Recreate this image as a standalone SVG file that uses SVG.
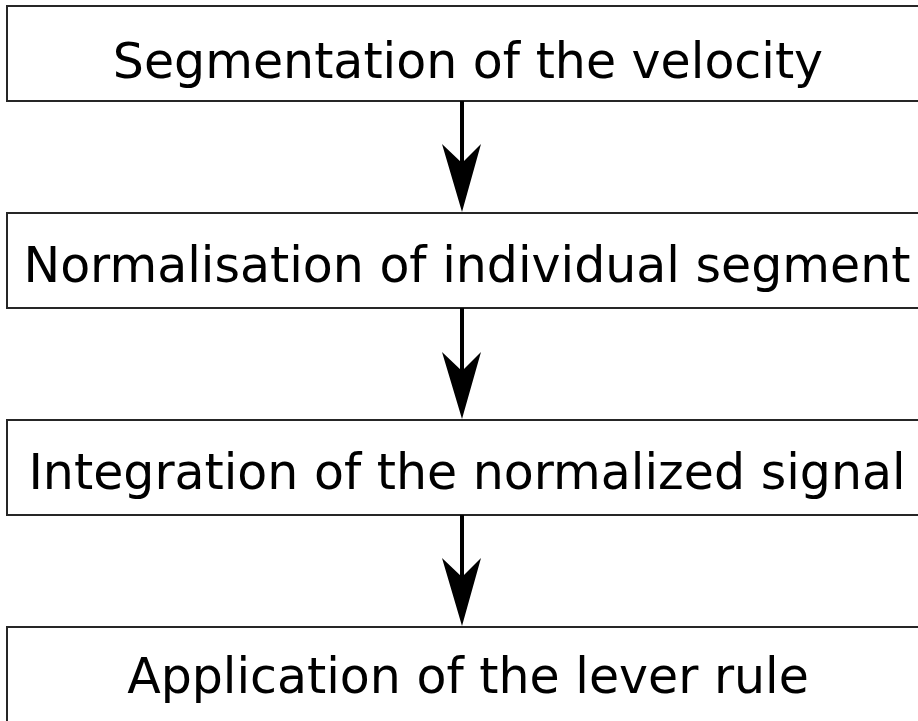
<svg xmlns="http://www.w3.org/2000/svg" width="918" height="721" viewBox="0 0 918 721">
<style>
.box{fill:#fff;stroke:#262626;stroke-width:2}
.lbl{font-family:"DejaVu Sans",sans-serif;font-size:49px;fill:#000;text-anchor:middle}
.ln{stroke:#000;stroke-width:4;fill:none}
.hd{fill:#000;stroke:none}
</style>
<rect width="918" height="721" fill="#fff"/>
<g id="node1"><rect class="box" x="7" y="6" width="930" height="95"/><text class="lbl" x="468" y="78">Segmentation of the velocity</text></g>
<g id="node2"><rect class="box" x="7" y="213" width="930" height="95"/><text class="lbl" x="467" y="282">Normalisation of individual segment</text></g>
<g id="node3"><rect class="box" x="7" y="420" width="930" height="95"/><text class="lbl" x="467" y="489">Integration of the normalized signal</text></g>
<g id="node4"><rect class="box" x="7" y="627" width="930" height="100"/><text class="lbl" x="468" y="693">Application of the lever rule</text></g>
<g id="connectors">
<line class="ln" x1="462" y1="101" x2="462" y2="165"/>
<polygon class="hd" points="462,212 442,144 462,163 481,144"/>
<line class="ln" x1="462" y1="308" x2="462" y2="372"/>
<polygon class="hd" points="462,419 442,352 462,371 481,352"/>
<line class="ln" x1="462" y1="515" x2="462" y2="579"/>
<polygon class="hd" points="462,626 442,558 462,577 481,558"/>
</g>
</svg>
